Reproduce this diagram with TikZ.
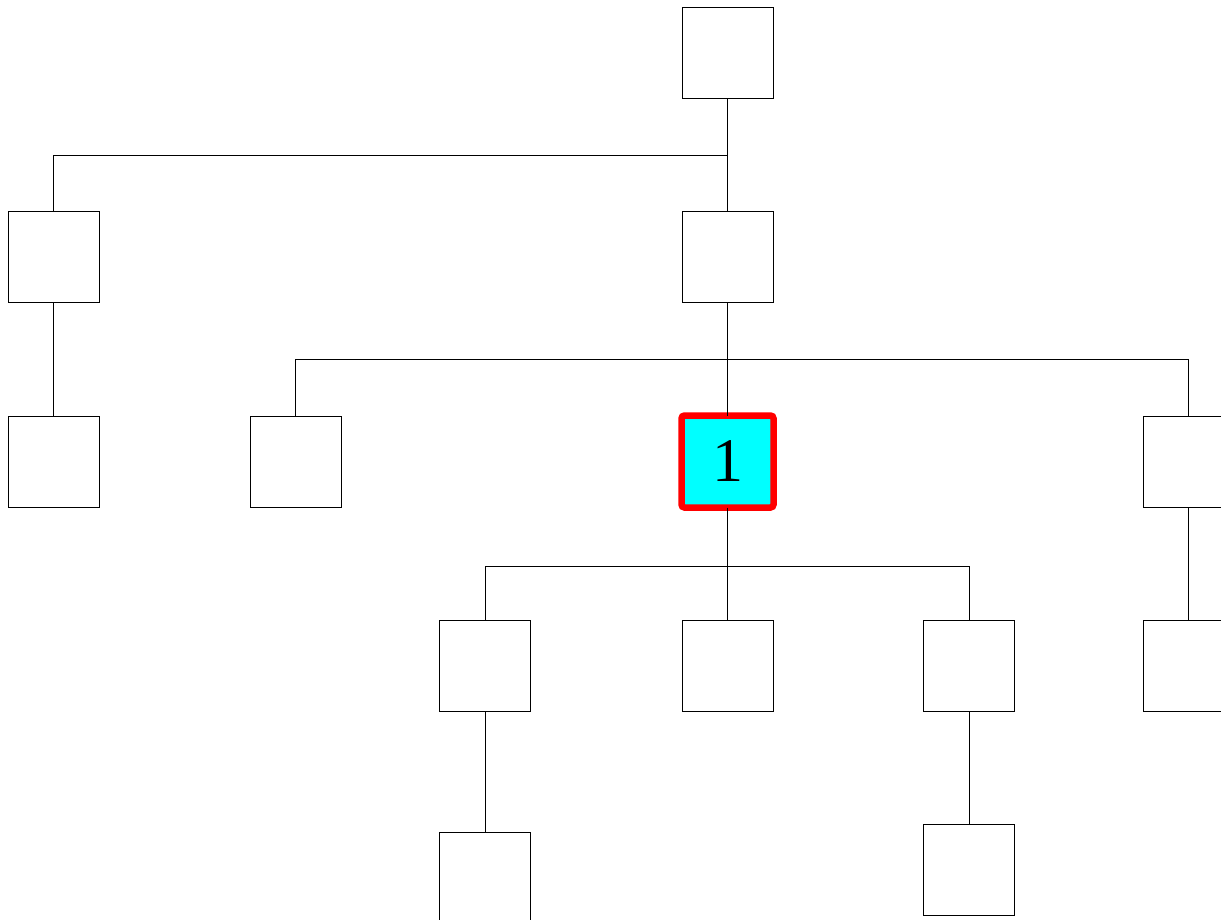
\documentclass[tikz,border=0pt]{standalone}
\usepackage{fontspec}
\newfontfamily\numfont{Liberation Serif}
\definecolor{hlfill}{RGB}{0,255,255}
\definecolor{hldraw}{RGB}{255,0,0}
\begin{document}
\begin{tikzpicture}[x=1pt,y=-1pt,
  box/.style={draw,line width=0.9pt,minimum width=91pt,minimum height=91pt,inner sep=0pt,outer sep=0pt,fill=white},
  hl/.style={box,draw=hldraw,fill=hlfill,line width=6.5pt,rounded corners=3pt,minimum width=92pt,minimum height=92pt,font=\numfont\fontsize{62}{62}\selectfont},
  edge/.style={draw,line width=0.9pt}]
\useasboundingbox (0,0) rectangle (1221,919);
% nodes
\node[box] (r) at (727.5,53) {};
\node[box] (a) at (53.5,257) {};
\node[box] (b) at (727.5,257) {};
\node[box] (a1) at (53.5,461.5) {};
\node[box] (b1) at (295.5,461.5) {};
\node[hl] (b2) at (727.5,461.5) {1};
\node[box] (b3) at (1188.5,461.5) {};
\node[box] (c1) at (485,666) {};
\node[box] (c2) at (727.5,666) {};
\node[box] (c3) at (969,666) {};
\node[box] (b31) at (1188.5,666) {};
\node[box] (c11) at (485,877.5) {};
\node[box] (c31) at (969,870) {};
% edges
\draw[edge] (r.south) -- (r.south |- 0,155) -| (a.north);
\draw[edge] (r.south |- 0,155) -- (b.north);
\draw[edge] (a.south) -- (a1.north);
\draw[edge] (b.south) -- (b.south |- 0,359) -| (b1.north);
\draw[edge] (b.south |- 0,359) -| (b3.north);
\draw[edge] (b.south |- 0,359) -- (b2.north);
\draw[edge] (b2.south) -- (b2.south |- 0,566) -| (c1.north);
\draw[edge] (b2.south |- 0,566) -| (c3.north);
\draw[edge] (b2.south |- 0,566) -- (c2.north);
\draw[edge] (b3.south) -- (b31.north);
\draw[edge] (c1.south) -- (c11.north);
\draw[edge] (c3.south) -- (c31.north);
\end{tikzpicture}
\end{document}
